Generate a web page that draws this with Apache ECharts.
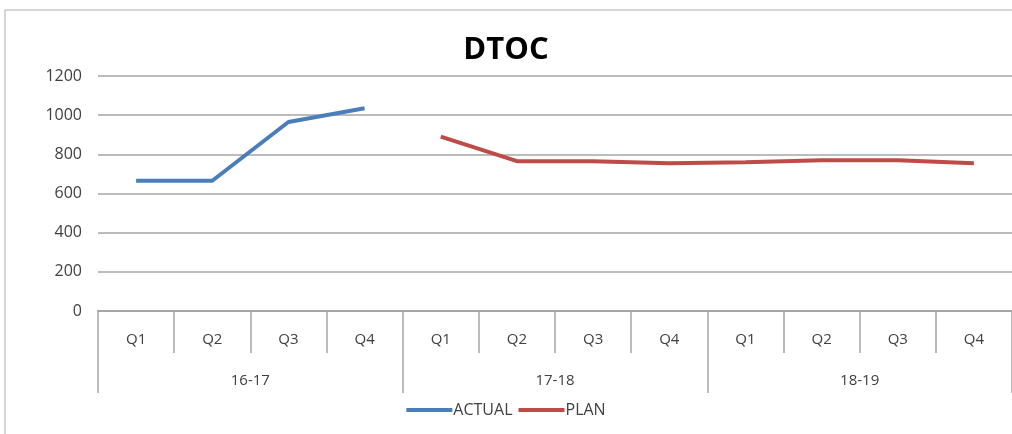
<!DOCTYPE html>
<html>
<head>
<meta charset="utf-8">
<script src="https://cdn.jsdelivr.net/npm/echarts@6/dist/echarts.min.js"></script>
<style>
  html, body { margin: 0; padding: 0; background: #fff; }
  #chart { width: 1012px; height: 434px; }
</style>
</head>
<body>
<div id="chart"></div>
<script>
const quarters = ["Q1", "Q2", "Q3", "Q4", "Q1", "Q2", "Q3", "Q4", "Q1", "Q2", "Q3", "Q4"];
const years = ["16-17", "17-18", "18-19"];
const actual = [665, 665, 965, 1035, null, null, null, null, null, null, null, null];
const plan = [null, null, null, null, 890, 765, 765, 755, 760, 770, 770, 755];
const yTicks = [0, 200, 400, 600, 800, 1000, 1200];

let myChart = echarts.init(document.getElementById("chart"));
const font = "'Open Sans', 'Liberation Sans', sans-serif";

let option = {
  animation: false,
  title: {
    text: "DTOC",
    left: "center",
    top: 30,
    textStyle: { fontSize: 31, fontWeight: "bold", color: "#000", fontFamily: font }
  },
  graphic: [
    {
      type: "rect",
      shape: { x: 5, y: 10, width: 1020, height: 440 },
      style: { fill: "none", stroke: "#c8c8c8", lineWidth: 1.5 },
      silent: true
    }
  ],
  legend: {
    bottom: 11,
    left: "center",
    icon: "rect",
    itemWidth: 46,
    itemHeight: 4,
    itemGap: 6,
    textStyle: { fontSize: 16, color: "#404040", fontFamily: font, padding: [0, 0, 0, -4] },
    data: ["ACTUAL", "PLAN"]
  },
  grid: { left: 98, right: 0, top: 76, bottom: 123 },
  xAxis: [
    {
      type: "category",
      data: quarters,
      boundaryGap: true,
      axisLine: { lineStyle: { color: "#a6a6a6", width: 2 } },
      axisTick: { show: true, length: 42, lineStyle: { color: "#a6a6a6", width: 1.5 } },
      axisLabel: { color: "#404040", fontSize: 15, margin: 21, fontFamily: font }
    },
    {
      type: "category",
      data: years,
      position: "bottom",
      boundaryGap: true,
      axisLine: { show: false },
      axisTick: { show: true, length: 82, lineStyle: { color: "#a6a6a6", width: 1.5 } },
      axisLabel: { color: "#404040", fontSize: 15, margin: 62, fontFamily: font }
    }
  ],
  yAxis: {
    type: "value",
    min: 0,
    max: 1200,
    interval: 200,
    axisLine: { show: false },
    axisTick: { show: false },
    axisLabel: {
      color: "#404040",
      fontSize: 16,
      margin: 16,
      fontFamily: font,
      formatter: (v) => (yTicks.includes(v) ? String(v) : "")
    },
    splitLine: { lineStyle: { color: "#a6a6a6", width: 1.5 } }
  },
  series: [
    {
      type: "line",
      name: "ACTUAL",
      data: actual,
      xAxisIndex: 0,
      symbol: "none",
      connectNulls: false,
      color: "#4a7ebb",
      lineStyle: { width: 4, color: "#4a7ebb" }
    },
    {
      type: "line",
      name: "PLAN",
      data: plan,
      xAxisIndex: 0,
      symbol: "none",
      connectNulls: false,
      color: "#be4b48",
      lineStyle: { width: 4, color: "#be4b48" }
    }
  ]
};
myChart.setOption(option);
</script>
</body>
</html>
